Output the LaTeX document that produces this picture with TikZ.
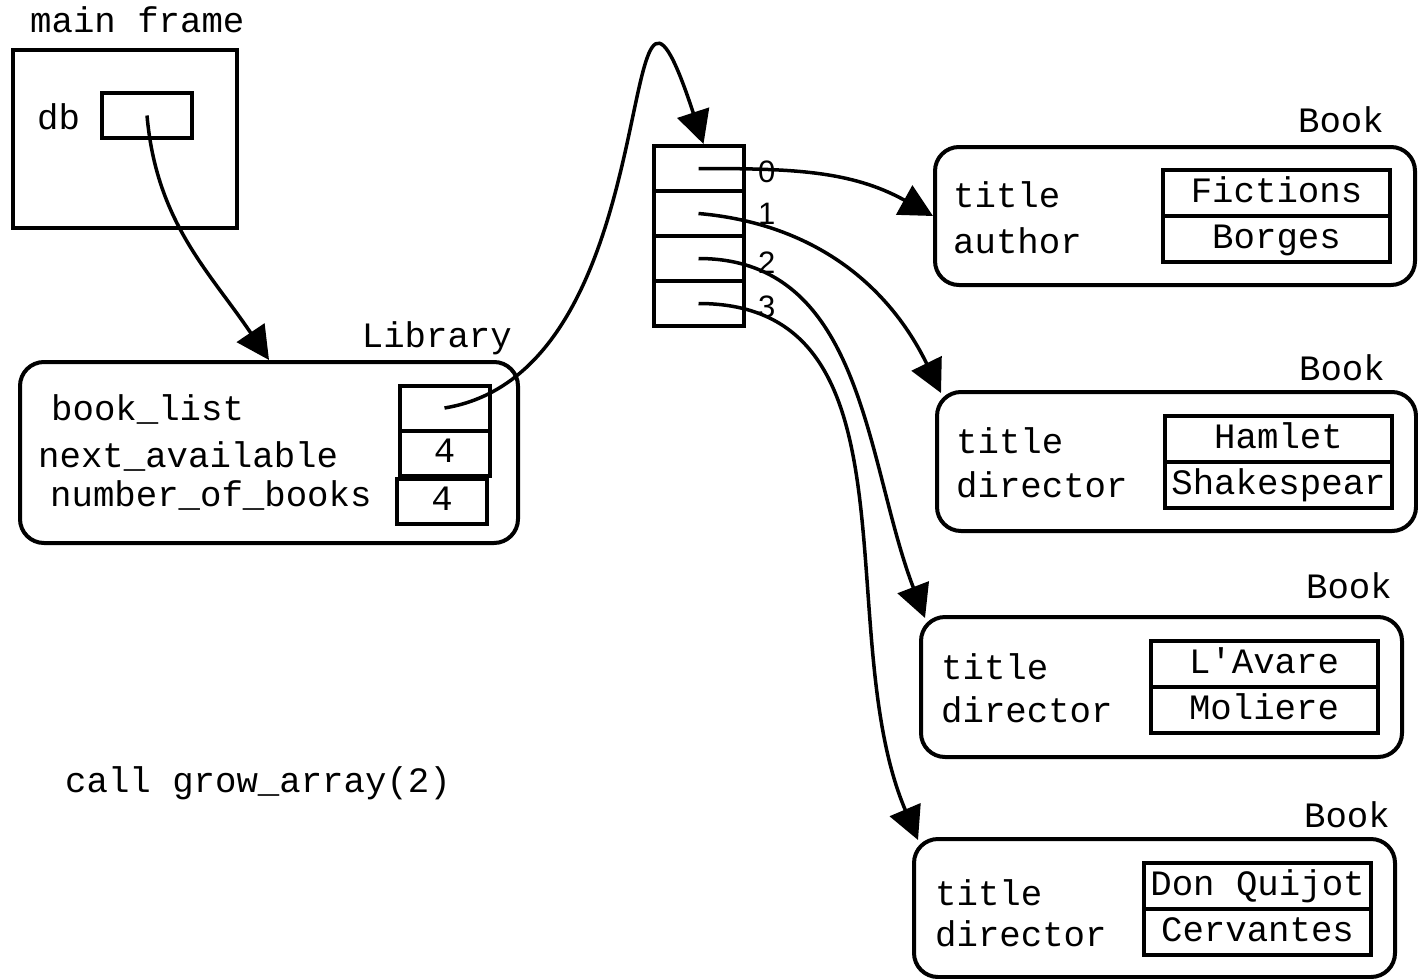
\documentclass[tikz,border=0pt]{standalone}
\usepackage{fontspec}
\newfontfamily\crr{Liberation Mono}
\newfontfamily\hlv{Liberation Sans}
\usetikzlibrary{arrows.meta}
\begin{document}
\begin{tikzpicture}[x=1pt,y=1pt,
  txt/.style={inner sep=0, font=\crr\fontsize{35.7}{40}\selectfont},
  idx/.style={inner sep=0, font=\hlv\fontsize{31}{36}\selectfont},
  box/.style={draw, line width=4pt, inner sep=0},
  obj/.style={box, rounded corners=24pt},
  slot/.style={box, minimum width=90, minimum height=45, text height=22pt, text depth=4pt, font=\crr\fontsize{35.7}{40}\selectfont},
  bslot/.style={slot, minimum width=227, minimum height=46},
  ptr/.style={line width=3.5pt, -{Triangle[length=33pt,width=33pt]}}]
\useasboundingbox (0,0) rectangle (1418,-979);
\node[box, minimum width=224, minimum height=178] (frm) at (125,-139){};
\node[txt, anchor=base west] (frmlbl) at (30,-33){main frame};
\node[txt, anchor=base west] (dblbl) at (37,-130){db};
\node[slot] (db) at (147,-115.5){};
\node[obj, minimum width=498, minimum height=181] (lib) at (269,-452.5){};
\node[txt, anchor=base east] (liblbl) at (512,-347){Library};
\node[txt, anchor=base west] (bllbl) at (51,-420){book\_list};
\node[txt, anchor=base west] (nalbl) at (38,-467){next\_available};
\node[txt, anchor=base west] (nblbl) at (50,-506){number\_of\_books};
\node[slot] (bl) at (444.5,-408){};
\node[slot] (na) at (444.5,-453){4};
\node[slot] (nb) at (442,-501){4};
\foreach \i in {0,...,3}
  \node[slot] (arr\i) at (698.5,-168.5-45*\i){};
\node[idx, anchor=base west] (n0) at (758,-182){0};
\node[idx, anchor=base west] (n1) at (758,-224){1};
\node[idx, anchor=base west] (n2) at (758,-273){2};
\node[idx, anchor=base west] (n3) at (758,-317){3};
\node[txt, anchor=base west] (call) at (65,-792){call grow\_array(2)};
\node[obj, minimum width=480, minimum height=138] (bk0) at (1175,-216){};
\node[txt, anchor=base east] (bk0lbl) at (1384,-132){Book};
\node[txt, anchor=base west] (bk0a) at (953,-207){title};
\node[txt, anchor=base west] (bk0b) at (953,-253){author};
\node[bslot] (bk0t) at (1276.5,-193){Fictions};
\node[bslot] (bk0d) at (1276.5,-239){Borges};
\node[obj, minimum width=479, minimum height=139] (bk1) at (1176.5,-461.5){};
\node[txt, anchor=base east] (bk1lbl) at (1385,-380){Book};
\node[txt, anchor=base west] (bk1a) at (956,-453){title};
\node[txt, anchor=base west] (bk1b) at (956,-497){director};
\node[bslot] (bk1t) at (1278.5,-439){Hamlet};
\node[bslot] (bk1d) at (1278.5,-485){Shakespear};
\node[obj, minimum width=481, minimum height=140] (bk2) at (1161.5,-687){};
\node[txt, anchor=base east] (bk2lbl) at (1392,-598){Book};
\node[txt, anchor=base west] (bk2a) at (941,-679){title};
\node[txt, anchor=base west] (bk2b) at (941,-722){director};
\node[bslot] (bk2t) at (1264,-664){L\textquotesingle Avare};
\node[bslot] (bk2d) at (1264,-710){Moliere};
\node[obj, minimum width=481, minimum height=138] (bk3) at (1154.5,-908){};
\node[txt, anchor=base east] (bk3lbl) at (1390,-827){Book};
\node[txt, anchor=base west] (bk3a) at (935,-905){title};
\node[txt, anchor=base west] (bk3b) at (935,-946){director};
\node[bslot] (bk3t) at (1257.5,-886){Don Quijot};
\node[bslot] (bk3d) at (1257.5,-932){Cervantes};
\draw[ptr] (db.center) to[out=-85,in=124] (lib.north);
\draw[ptr] (bl.center) .. controls (678,-370) and (610,140) .. ([xshift=5pt]arr0.north);
\draw[ptr] (arr0.center) to[out=0,in=151] (bk0.west);
\draw[ptr] (arr1.center) to[out=-5,in=116] ([shift={(6,-3)}]bk1.north west);
\draw[ptr] (arr2.center) to[out=0,in=111] ([shift={(6,-3)}]bk2.north west);
\draw[ptr] (arr3.center) to[out=0,in=113] ([shift={(6,-3)}]bk3.north west);
\end{tikzpicture}
\end{document}
